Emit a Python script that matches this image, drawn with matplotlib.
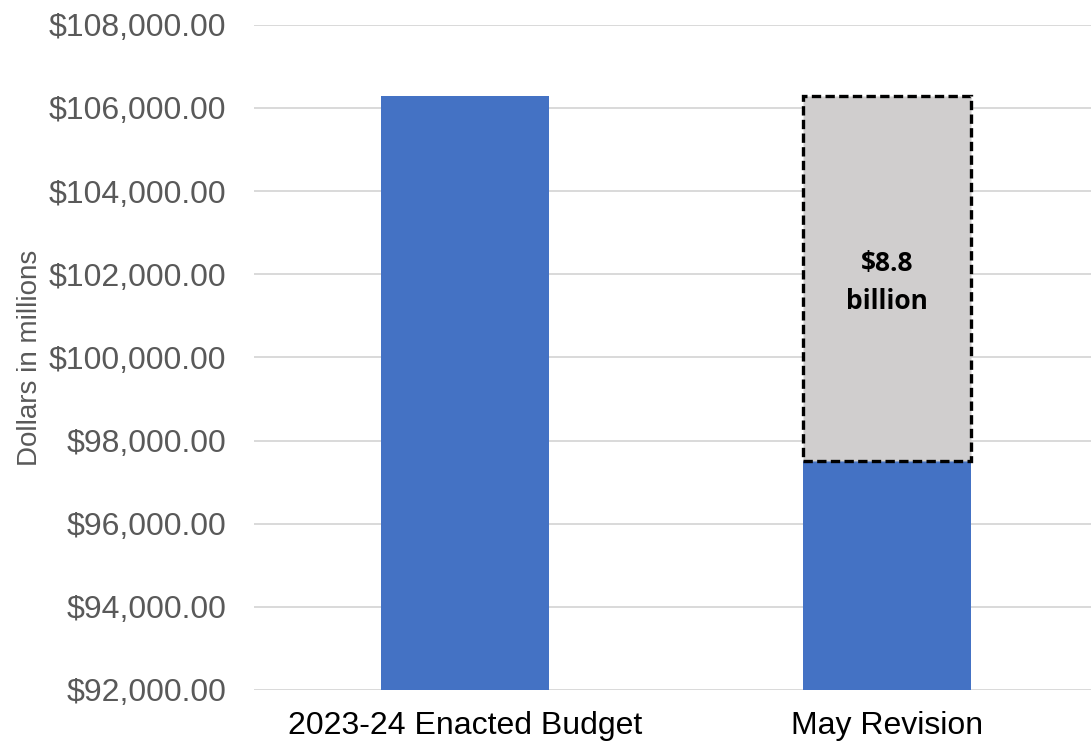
import matplotlib.pyplot as plt
from matplotlib.ticker import FuncFormatter

categories = ["2023-24 Enacted Budget", "May Revision"]
base_values = [106300, 97500]      # dollars in millions
shortfall = [0, 8800]              # gap shown on the May Revision bar
shortfall_label = "$8.8\nbillion"
yticks = list(range(92000, 108001, 2000))

plt.rcParams['font.family'] = ['Liberation Sans', 'DejaVu Sans']

fig = plt.figure(figsize=(10.91, 7.44), dpi=100)
ax = fig.add_axes([0.2328, 0.0726, 0.7736, 0.894])

x = list(range(len(categories)))
ax.bar(x, [v - 92000 for v in base_values], bottom=92000, width=0.40,
       color="#4472C4", zorder=2)

# dashed box marking the reduction
ax.bar(x[1], shortfall[1], bottom=base_values[1], width=0.40,
       color="#D0CECE", edgecolor="black", linewidth=2.4,
       linestyle=(0, (2.8, 1.3)), zorder=3)
ax.annotate(shortfall_label, (x[1], base_values[1] + shortfall[1] / 2),
            xytext=(0, -3), textcoords="offset points",
            ha="center", va="center", fontsize=19, fontweight="bold",
            family=["Open Sans", "DejaVu Sans"], linespacing=1.5, zorder=4)

ax.set_xlim(-0.5, 1.5)
ax.set_ylim(92000, 108000)
ax.set_yticks(yticks)
ax.yaxis.set_major_formatter(FuncFormatter(lambda v, p: f"${v:,.2f}"))
ax.set_xticks(x)
ax.set_xticklabels(categories, fontsize=23, color="black")
ax.tick_params(axis="y", labelsize=23, labelcolor="#595959", length=0, pad=20)
ax.tick_params(axis="x", length=0, pad=15)

ax.grid(axis="y", color="#D9D9D9", linewidth=1.4, zorder=0)
for s in ax.spines.values():
    s.set_visible(False)

ax.set_ylabel("Dollars in millions", fontsize=20, color="#595959")
ax.yaxis.set_label_coords(-0.25, 0.5)

fig.savefig("out.png", dpi=100)
